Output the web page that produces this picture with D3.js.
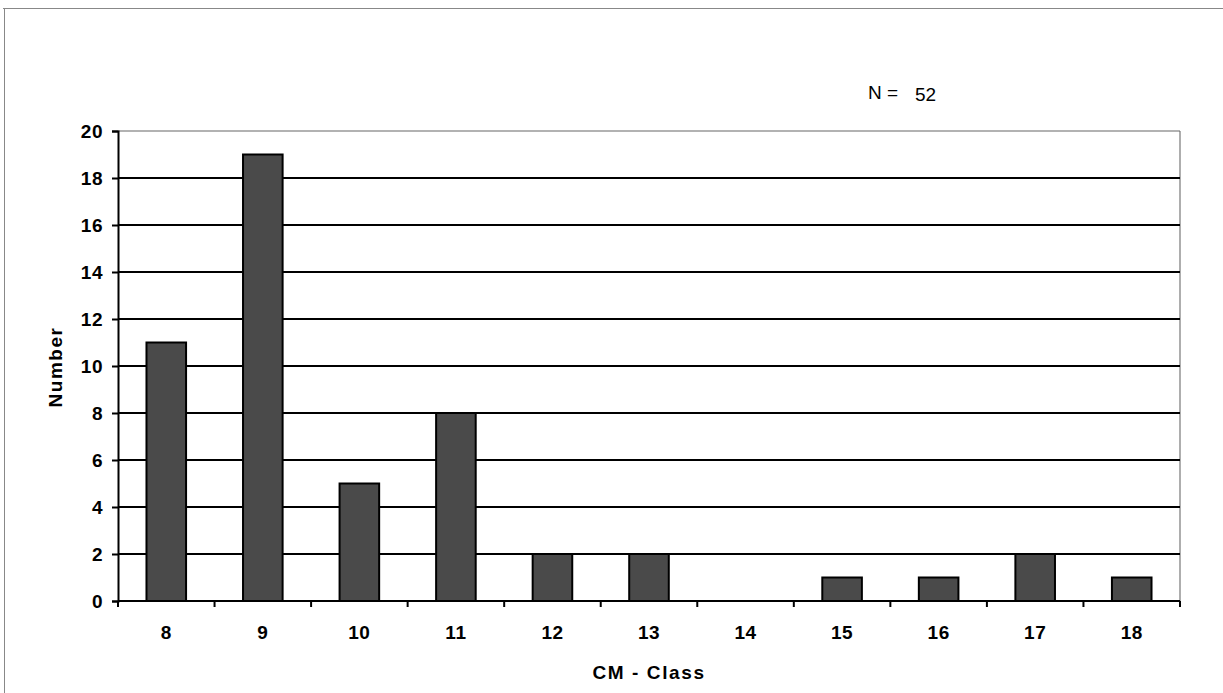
<!DOCTYPE html>
<html><head><meta charset="utf-8">
<script src="https://cdn.jsdelivr.net/npm/d3@7"></script>
<style>body{margin:0;background:#fff;} svg{display:block;} text{font-family:"Liberation Sans",Arial,sans-serif;}</style>
</head><body>
<svg id="c" width="1223" height="693"></svg>
<script>
const categories = ["8","9","10","11","12","13","14","15","16","17","18"];
const values = [11,19,5,8,2,2,0,1,1,2,1];
const yTicks = [0,2,4,6,8,10,12,14,16,18,20];
const xTitle = "CM - Class";
const yTitle = "Number";
const noteLabel = "N =";
const noteValue = "52";

const svg = d3.select("#c");
const m = {l:118, r:1180, t:131, b:601};
const x = d3.scaleBand().domain(categories).range([m.l, m.r]).paddingInner(0.59).paddingOuter(0.295);
const xb = d3.scaleBand().domain(categories).range([m.l, m.r]);
const y = d3.scaleLinear().domain([0,20]).range([m.b, m.t]);

// outer frame
svg.append("line").attr("x1",3).attr("x2",1223).attr("y1",8.5).attr("y2",8.5).attr("stroke","#888").attr("stroke-width",1);
svg.append("line").attr("x1",4.5).attr("x2",4.5).attr("y1",8).attr("y2",693).attr("stroke","#888").attr("stroke-width",1);

// right border of plot
svg.append("line").attr("x1",m.r).attr("x2",m.r).attr("y1",m.t).attr("y2",m.b).attr("stroke","#777").attr("stroke-width",1.2);

// gridlines
yTicks.forEach(t=>{
  if(t===0) return;
  svg.append("line").attr("x1",m.l).attr("x2",m.r).attr("y1",y(t)).attr("y2",y(t))
    .attr("stroke", t===20 ? "#666" : "#000").attr("stroke-width", t===20 ? 1.2 : 2);
});

// bars
svg.append("g").selectAll("rect").data(values).join("rect")
  .attr("x",(d,i)=>x(categories[i])).attr("width",x.bandwidth())
  .attr("y",d=>y(d)).attr("height",d=>y(0)-y(d))
  .attr("fill","#4a4a4a").attr("stroke","#000").attr("stroke-width",2)
  .attr("display",d=>d>0?null:"none");

// y axis
const ya = svg.append("g").attr("transform",`translate(${m.l},0)`)
  .call(d3.axisLeft(y).tickValues(yTicks).tickSize(6).tickPadding(9));
ya.select(".domain").attr("stroke","#000").attr("stroke-width",2);
ya.selectAll(".tick line").attr("stroke","#000").attr("stroke-width",2);
ya.selectAll(".tick text").attr("font-size",19).attr("font-weight","bold").attr("fill","#000").attr("letter-spacing","0.5px");

// x axis
const xa = svg.append("g").attr("transform",`translate(0,${m.b})`);
xa.append("line").attr("x1",m.l).attr("x2",m.r).attr("stroke","#000").attr("stroke-width",2);
const edges = categories.map(c=>xb(c)).concat([m.r]);
xa.selectAll("line.tk").data(edges).join("line").attr("class","tk")
  .attr("x1",d=>d).attr("x2",d=>d).attr("y1",0).attr("y2",6).attr("stroke","#000").attr("stroke-width",2);
xa.selectAll("text").data(categories).join("text")
  .attr("x",d=>xb(d)+xb.bandwidth()/2).attr("y",38).attr("text-anchor","middle")
  .attr("font-size",19).attr("font-weight","bold").attr("letter-spacing","0.5px").text(d=>d);

// titles
svg.append("text").attr("x",649).attr("y",679).attr("text-anchor","middle")
  .attr("font-size",19).attr("font-weight","bold").attr("letter-spacing","1.6px").text(xTitle);
svg.append("text").attr("transform","translate(62,367) rotate(-90)").attr("text-anchor","middle")
  .attr("font-size",19).attr("font-weight","bold").attr("letter-spacing","1.5px").text(yTitle);
svg.append("text").attr("x",868).attr("y",99).attr("font-size",19).text(noteLabel);
svg.append("text").attr("x",915).attr("y",101).attr("font-size",19).text(noteValue);
</script>
</body></html>
